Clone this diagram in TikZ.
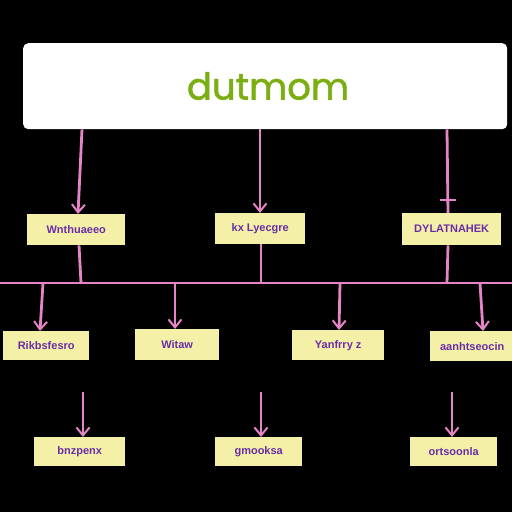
\documentclass[tikz,border=0pt]{standalone}
\usepackage{fontspec}
\setmainfont{Liberation Sans}
\newfontfamily\titlefont[FakeBold=1.5]{Poppins}
\usetikzlibrary{arrows.meta}
\definecolor{bg}{HTML}{000000}
\definecolor{boxfill}{HTML}{F4F0A8}
\definecolor{txt}{HTML}{6A2DA6}
\definecolor{pinkline}{HTML}{E584C6}
\definecolor{titlegreen}{HTML}{7BAE12}
\tikzset{
  lbl/.style={draw=none, fill=boxfill, text=txt, font=\bfseries\fontsize{11}{13}\selectfont, inner sep=0pt, anchor=north west},
  conn/.style={draw=pinkline, line width=2.8pt},
  arr/.style={conn, -{Straight Barb[length=8pt,width=13pt,line width=2pt]}},
}
\begin{document}
\begin{tikzpicture}[x=1pt,y=-1pt]
\fill[bg] (0,0) rectangle (512,512);
\useasboundingbox (0,0) rectangle (512,512);
% top box
\node[fill=white, rounded corners=5pt, minimum width=484pt, minimum height=86pt, inner sep=0pt, anchor=north west] (top) at (23,43) {};
\node[text=titlegreen, font=\titlefont\fontsize{37}{40}\selectfont] (title) at (268,86) {dutmom};
% row 1
\node[lbl, minimum width=98pt, minimum height=31pt] (a1) at (27,214) {Wnthuaeeo};
\node[lbl, minimum width=90pt, minimum height=31pt] (a2) at (215,213) {kx Lyecgre};
\node[lbl, minimum width=99pt, minimum height=32pt] (a3) at (402,213) {DYLATNAHEK};
% row 2
\node[lbl, minimum width=86pt, minimum height=29pt] (b1) at (3,331) {Rikbsfesro};
\node[lbl, minimum width=84pt, minimum height=31pt] (b2) at (135,329) {Witaw};
\node[lbl, minimum width=92pt, minimum height=30pt] (b3) at (292,330) {Yanfrry z};
\node[lbl, minimum width=84pt, minimum height=30pt] (b4) at (430,331) {aanhtseocin};
% row 3
\node[lbl, minimum width=91pt, minimum height=29pt] (c1) at (34,437) {bnzpenx};
\node[lbl, minimum width=87pt, minimum height=29pt] (c2) at (215,437) {gmooksa};
\node[lbl, minimum width=87pt, minimum height=29pt] (c3) at (410,437) {ortsoonla};
% bus
\coordinate (busL) at (0,283);
\coordinate (busR) at (512,283);
\draw[conn] (busL) -- (busR);
% top box to row 1
\draw[arr] (top.south -| 82,0) -- (a1.north -| 78,0);
\draw[arr] (top.south -| 260,0) -- (a2.north -| 260,0);
\draw[conn] (top.south -| 447,0) -- (a3.north -| 448,0);
\coordinate (tee) at (448,200);
\draw[conn] ([xshift=-8pt]tee) -- ([xshift=8pt]tee);
% row 1 to bus
\draw[conn] (a1.south -| 79,0) -- (busL -| 81,0);
\draw[conn] (a2.south -| 261,0) -- (busL -| 261,0);
\draw[conn] (a3.south -| 448,0) -- (busL -| 447,0);
% bus to row 2
\draw[arr] (busL -| 43,0) -- (b1.north -| 40,0);
\draw[arr] (busL -| 175,0) -- (b2.north -| 175,0);
\draw[arr] (busL -| 340,0) -- (b3.north -| 339,0);
\draw[arr] (busL -| 480,0) -- (b4.north -| 483,0);
% free arrows to row 3
\coordinate (s1) at (83,392);
\coordinate (s2) at (261,392);
\coordinate (s3) at (452,392);
\draw[arr] (s1) -- (c1.north -| s1);
\draw[arr] (s2) -- (c2.north -| s2);
\draw[arr] (s3) -- (c3.north -| s3);
\end{tikzpicture}
\end{document}
